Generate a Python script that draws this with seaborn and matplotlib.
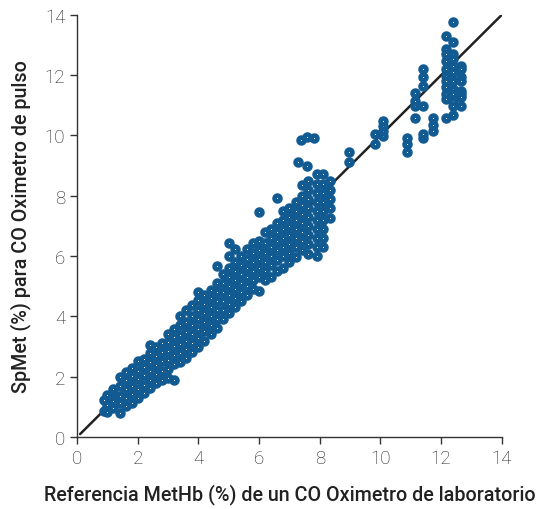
import numpy as np
import pandas as pd
import matplotlib
matplotlib.use("Agg")
import matplotlib.pyplot as plt
import seaborn as sns

# Values (approximate)
# main band: one x per column, list of SpMet values in that column
band_x = [0.9, 1.0, 1.2, 1.4, 1.6, 1.8, 2.0, 2.2, 2.4, 2.6, 2.8, 3.0, 3.2, 3.4,
          3.6, 3.8, 4.0, 4.2, 4.4, 4.6, 4.8, 5.0, 5.2, 5.4, 5.6, 5.8, 6.0, 6.2,
          6.4, 6.6, 6.8, 7.0, 7.2, 7.4, 7.6, 7.9, 8.1, 8.33]
band_y = [
    [0.88, 1.22],
    [0.82, 1.08, 1.41],
    [0.95, 1.18, 1.47, 1.6],
    [0.8, 1.12, 1.35, 1.7, 1.98],
    [1.02, 1.3, 1.58, 1.88, 2.17],
    [1.14, 1.42, 1.7, 2.02, 2.3],
    [1.28, 1.6, 1.92, 2.2, 2.52],
    [1.45, 1.72, 2.05, 2.32, 2.6],
    [1.62, 1.9, 2.18, 2.5, 2.78, 3.05],
    [1.78, 2.08, 2.4, 2.7, 2.98],
    [1.88, 2.2, 2.52, 2.82, 3.12],
    [1.95, 2.25, 2.55, 2.85, 3.15, 3.42],
    [1.9, 2.42, 2.72, 3.02, 3.32, 3.6],
    [2.5, 2.78, 3.1, 3.4, 3.72, 4.02],
    [2.62, 2.92, 3.2, 3.5, 3.82, 4.2],
    [2.82, 3.12, 3.42, 3.7, 4.0, 4.38],
    [3.0, 3.3, 3.6, 3.92, 4.22, 4.55, 4.8],
    [3.2, 3.52, 3.8, 4.1, 4.42, 4.72],
    [3.42, 3.7, 4.02, 4.3, 4.6, 4.88],
    [3.62, 3.92, 4.2, 4.5, 4.8, 5.1, 5.68],
    [3.9, 4.2, 4.5, 4.8, 5.12, 5.42],
    [4.1, 4.42, 4.7, 5.0, 5.3, 5.62, 6.02, 6.45],
    [4.3, 4.6, 4.92, 5.2, 5.52, 5.8, 6.22],
    [4.5, 4.8, 5.1, 5.42, 5.7, 6.0],
    [4.72, 5.0, 5.3, 5.6, 5.9, 6.22],
    [4.9, 5.2, 5.5, 5.8, 6.1, 6.42],
    [4.84, 5.3, 5.6, 5.9, 6.2, 6.5, 7.46],
    [5.2, 5.5, 5.82, 6.1, 6.42, 6.8],
    [5.31, 5.7, 6.0, 6.3, 6.6, 6.9],
    [5.5, 5.88, 6.2, 6.5, 6.8, 7.1, 7.93],
    [5.62, 6.0, 6.3, 6.6, 6.9, 7.2, 7.5],
    [5.8, 6.1, 6.4, 6.7, 7.0, 7.3, 7.6],
    [5.97, 6.3, 6.6, 6.9, 7.2, 7.5, 7.8],
    [6.2, 6.5, 6.8, 7.1, 7.4, 7.7, 8.0, 8.35],
    [6.07, 6.4, 6.7, 7.0, 7.3, 7.6, 7.9, 8.2, 8.5],
    [6.0, 6.3, 6.6, 6.9, 7.2, 7.5, 7.8, 8.1, 8.4, 8.73],
    [6.3, 6.6, 6.9, 7.2, 7.5, 7.8, 8.1, 8.4, 8.73],
    [7.25, 7.6, 7.9, 8.2, 8.5],
]

# scattered / high range points
high_x = [7.38, 7.58, 7.81, 7.28, 7.58, 8.96, 8.96,
          9.82, 9.82, 10.08, 10.08, 10.08, 10.08,
          10.87, 10.87, 10.87,
          11.13, 11.13, 11.13, 11.13,
          11.4, 11.4, 11.4, 11.4, 11.4, 11.4,
          11.72, 11.72, 11.72]
high_y = [9.85, 9.95, 9.92, 9.12, 9.0, 9.12, 9.46,
          10.05, 9.72, 9.99, 10.15, 10.32, 10.48,
          9.46, 9.72, 9.92,
          10.58, 10.98, 11.15, 11.4,
          9.9, 10.05, 10.98, 11.65, 11.95, 12.2,
          10.15, 10.35, 10.58]

top_cols_x = [12.15, 12.38, 12.65]
top_cols_y = [
    [13.3, 12.87, 12.7, 12.47, 12.2, 11.98, 11.8, 11.6, 11.38, 11.2, 10.58],
    [13.77, 13.1, 12.7, 12.54, 12.3, 12.1, 11.8, 11.55, 11.38, 11.15, 10.98, 10.68],
    [12.3, 12.2, 11.95, 11.8, 11.48, 11.38, 11.28, 10.98],
]

ref_x, ref_y = [], []
for cx, ys in zip(band_x + top_cols_x, band_y + top_cols_y):
    ref_x += [cx] * len(ys)
    ref_y += ys
ref_x += high_x
ref_y += high_y

df = pd.DataFrame({"MetHb": ref_x, "SpMet": ref_y})

sns.set_style("ticks")
plt.rcParams["font.family"] = ["Roboto", "DejaVu Sans"]

blue = "#125a92"
fig = plt.figure(figsize=(5.39, 5.10), dpi=100)
ax = fig.add_axes([0.143, 0.141, 0.788, 0.828])

ax.plot([0.1, 14], [0.1, 14], color="#222222", linewidth=1.8, zorder=1)
sns.scatterplot(data=df, x="MetHb", y="SpMet", ax=ax, marker="o", s=18,
                facecolor="white", edgecolor=blue, linewidth=3.3, zorder=2)

ax.set_xlim(0, 14)
ax.set_ylim(0, 14)
ax.set_xticks(range(0, 15, 2))
ax.set_yticks(range(0, 15, 2))
sns.despine(ax=ax)
for s in ["left", "bottom"]:
    ax.spines[s].set_color("#333333")
    ax.spines[s].set_linewidth(1.0)
ax.tick_params(axis="both", direction="out", length=5, width=1, color="#333333",
               labelsize=13.5, labelcolor="#222222")
for lab in ax.get_xticklabels() + ax.get_yticklabels():
    lab.set_fontweight("light")

ax.set_xlabel("Referencia MetHb (%) de un CO Oximetro de laboratorio",
              fontsize=14.2, fontweight="medium", color="#222222", labelpad=12)
ax.set_ylabel("SpMet (%) para CO Oximetro de pulso",
              fontsize=14.2, fontweight="medium", color="#222222", labelpad=10)

fig.savefig("out.png", dpi=100)
